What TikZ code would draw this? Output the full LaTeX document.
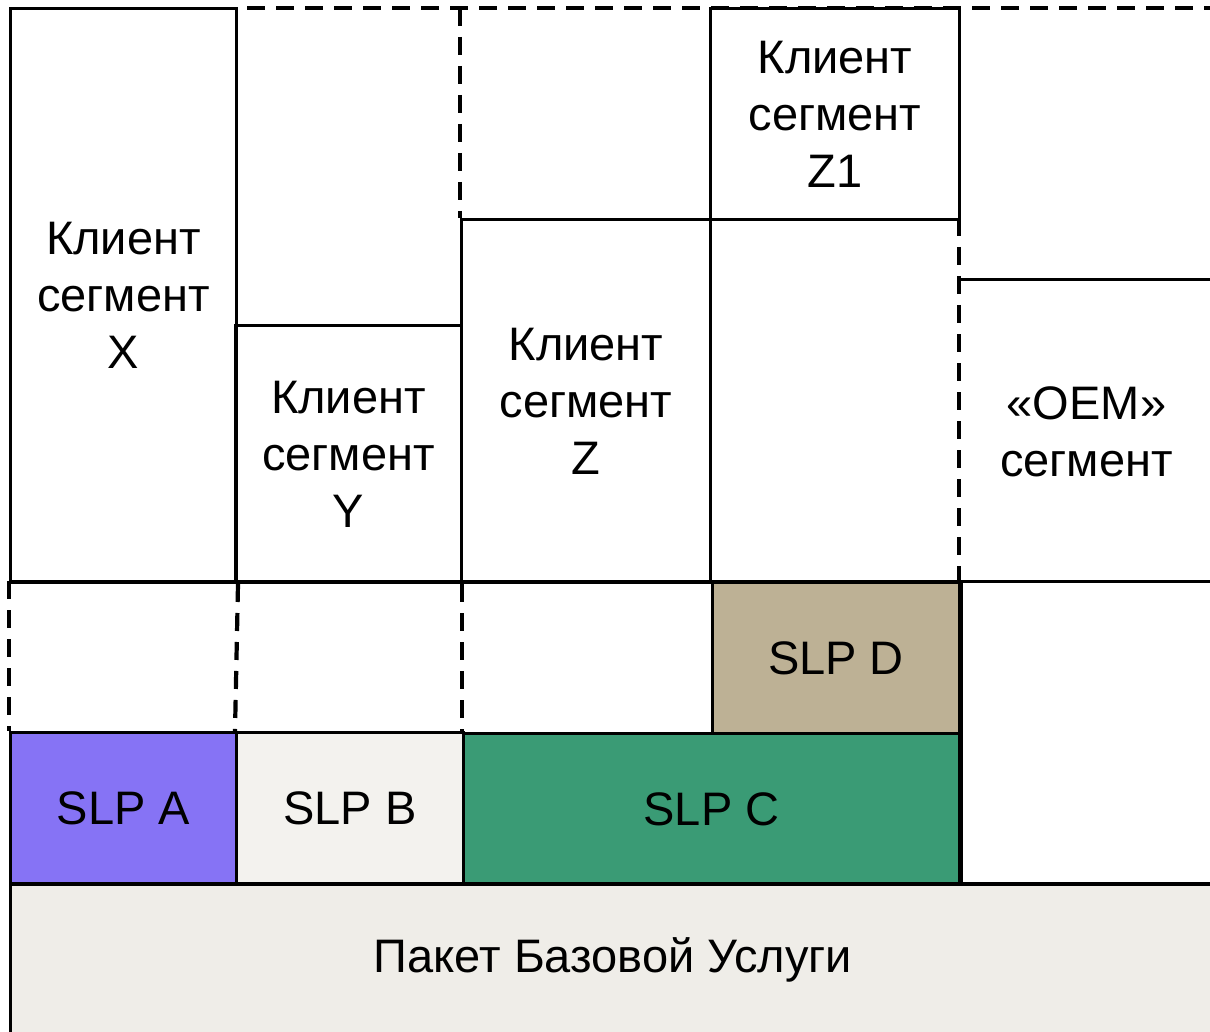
\documentclass[tikz,border=0pt]{standalone}
\usepackage{fontspec}
\setmainfont{Liberation Sans}
\definecolor{slpA}{HTML}{8673F5}
\definecolor{slpB}{HTML}{F3F2EE}
\definecolor{slpC}{HTML}{3A9B75}
\definecolor{slpD}{HTML}{BDB195}
\definecolor{basefill}{HTML}{EFEDE8}
\begin{document}
\begin{tikzpicture}[x=1pt,y=-1pt,
  lw/.style={line width=3pt},
  cell/.style={draw=black, lw, anchor=north west, inner sep=0pt, align=center,
    font=\fontsize{47}{57}\selectfont},
  gapline/.style={line width=4.2pt, dash pattern=on 18pt off 11pt},
  solidline/.style={lw}
]
\clip (0,0) rectangle (1210,1032);
\fill[white] (0,0) rectangle (1210,1032);

% base service package
\node[cell, fill=basefill, minimum width=1230pt, minimum height=170pt] (base) at (9,883) {};
\node[font=\fontsize{47}{57}\selectfont] (baselabel) at (613,960) {Пакет Базовой Услуги};

% client segments
\node[cell, minimum width=226pt, minimum height=574pt] (X) at (9,7) {Клиент\\сегмент\\X};
\node[cell, minimum width=226pt, minimum height=257pt] (Y) at (234,324) {Клиент\\сегмент\\Y};
\node[cell, minimum width=249pt, minimum height=363pt] (Z) at (460,218) {Клиент\\сегмент\\Z};
\node[cell, minimum width=249pt, minimum height=211pt] (Z1) at (709,7) {Клиент\\сегмент\\Z1};
\node[cell, draw=none, minimum width=250pt, minimum height=301pt] (OEM) at (960,280) {«OEM»\\сегмент};

% SLP blocks
\node[cell, fill=slpD, minimum width=247pt, minimum height=151pt] (D) at (711,581) {SLP D};
\node[cell, fill=slpA, minimum width=226pt, minimum height=152pt] (A) at (9,731) {SLP A};
\node[cell, fill=slpB, minimum width=227pt, minimum height=152pt] (B) at (235,731) {SLP B};
\node[cell, fill=slpC, minimum width=496pt, minimum height=151pt] (C) at (462,732) {SLP C};

% reference points for the open boundaries
\coordinate (topL) at (247,8);
\coordinate (topR) at (1215,8);
\coordinate (zTop) at (460,8);
\coordinate (eTop) at (959,218);
\coordinate (rowL) at (9,581);
\coordinate (rowR) at (1215,581);
\coordinate (oemR) at (1215,280);

% solid separators
\draw[solidline] (rowL) -- (rowR);
\draw[solidline] (OEM.north west) -- (oemR);
\draw[solidline] (D.north east) -- (C.south east);
\draw[solidline] (base.north west) -- (base.north east);

% dashed boundaries
\draw[gapline] (topL) -- (topR);
\draw[gapline] (zTop) -- (Z.north west);
\draw[gapline] (eTop) -- (eTop |- rowL);
\draw[gapline] (rowL) -- (A.north west);
\draw[gapline] (X.south east) -- (B.north west);
\draw[gapline] (Y.south east -| C.north west) -- (C.north west |- B.north);
\end{tikzpicture}
\end{document}
